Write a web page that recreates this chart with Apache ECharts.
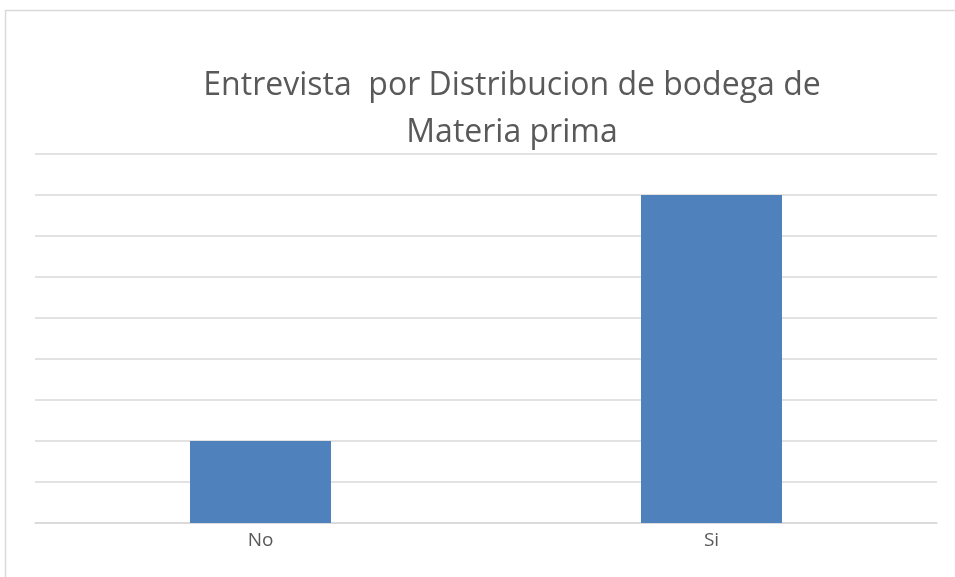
<!DOCTYPE html>
<html>
<head>
<meta charset="utf-8">
<script src="https://cdn.jsdelivr.net/npm/echarts@6/dist/echarts.min.js"></script>
<style>
  html, body { margin: 0; padding: 0; background: #fff; }
  #chart { width: 955px; height: 577px; }
</style>
</head>
<body>
<div id="chart"></div>
<script>
// datos
const categorias = ["No", "Si"];
const valores = [2, 8];
const tituloTexto = "Entrevista  por Distribucion de bodega de\nMateria prima";

const chart = echarts.init(document.getElementById("chart"));

chart.setOption({
  animation: false,
  backgroundColor: "#ffffff",
  title: {
    text: tituloTexto,
    left: 507,
    textAlign: "center",
    top: 57,
    textStyle: {
      fontFamily: "Open Sans",
      fontWeight: "normal",
      fontSize: 32,
      lineHeight: 47,
      color: "#595959",
    },
  },
  graphic: [
    {
      type: "rect",
      shape: { x: 5.5, y: 10.5, width: 1000, height: 1000 },
      style: { fill: "none", stroke: "#d9d9d9", lineWidth: 1.5 },
      silent: true,
    },
  ],
  grid: {
    left: 35,
    right: 18,
    top: 154,
    bottom: 54,
  },
  xAxis: {
    type: "category",
    data: categorias,
    axisLine: { lineStyle: { color: "#d9d9d9", width: 1.5 } },
    axisTick: { show: false },
    axisLabel: {
      color: "#595959",
      fontFamily: "Open Sans",
      fontSize: 19,
      margin: 8,
    },
  },
  yAxis: {
    type: "value",
    min: 0,
    max: 9,
    interval: 1,
    axisLabel: { show: false },
    axisLine: { show: false },
    axisTick: { show: false },
    splitLine: { lineStyle: { color: "#d9d9d9", width: 1.5 } },
  },
  series: [
    {
      type: "bar",
      data: valores,
      barWidth: 141,
      itemStyle: { color: "#4f81bd" },
    },
  ],
});
</script>
</body>
</html>
